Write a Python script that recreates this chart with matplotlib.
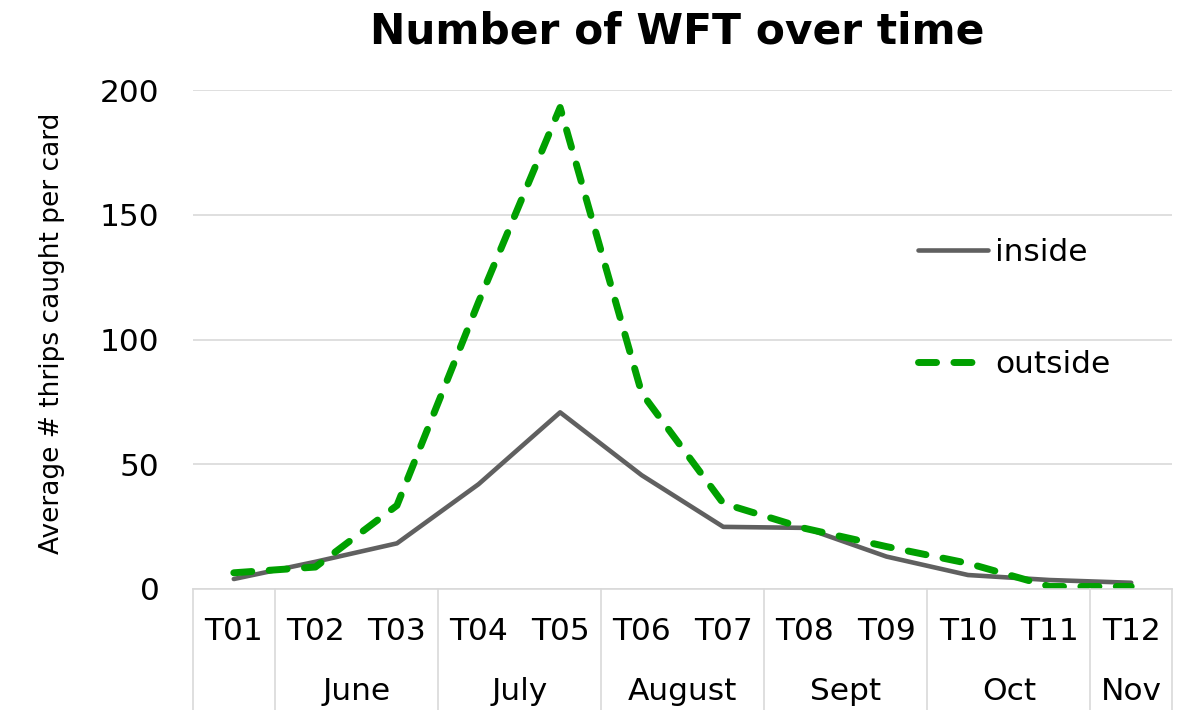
import matplotlib
matplotlib.use("Agg")
import matplotlib.pyplot as plt
from matplotlib.lines import Line2D

periods = ["T01", "T02", "T03", "T04", "T05", "T06", "T07", "T08", "T09", "T10", "T11", "T12"]
months = ["", "June", "July", "August", "Sept", "Oct", "Nov"]
month_spans = [(0, 0), (1, 2), (3, 4), (5, 6), (7, 8), (9, 10), (11, 11)]
inside = [4.0, 10.9, 18.3, 42.0, 70.8, 45.6, 24.9, 24.5, 13.0, 5.6, 3.6, 2.5]
outside = [6.5, 8.8, 33.5, 115.0, 193.0, 78.5, 34.3, 24.3, 17.0, 10.3, 1.0, 1.0]

grid_col = "#d9d9d9"
fs = 22.5

fig = plt.figure(figsize=(11.81, 7.10), dpi=100)
ax = fig.add_axes([193 / 1181, 1 - 589 / 710, (1172 - 193) / 1181, (589 - 90) / 710])

x = list(range(len(periods)))
ax.plot(x, inside, color="#606060", lw=3.3, solid_capstyle="round", label="inside")
ax.plot(x, outside, color="#00a000", lw=5.0, dashes=(2.6, 2.5),
        dash_capstyle="round", label="outside")

ax.set_xlim(-0.5, len(periods) - 0.5)
ax.set_ylim(0, 200)
ax.set_yticks([0, 50, 100, 150, 200])
ax.tick_params(axis="y", length=0, pad=24, labelsize=fs)
ax.set_xticks([])
ax.grid(axis="y", color=grid_col, lw=1.2)
ax.set_axisbelow(True)
for s in ["left", "right", "top"]:
    ax.spines[s].set_visible(False)
ax.spines["bottom"].set_color(grid_col)
ax.spines["bottom"].set_linewidth(1.2)

# two-level category axis
trans = ax.get_xaxis_transform()
bottom = -121 / 499
for i, p in enumerate(periods):
    ax.text(i, -43 / 499, p, transform=trans, ha="center", va="center", fontsize=fs)
seps = [-0.5] + [b + 0.5 for a, b in month_spans]
for sx in seps:
    ax.add_line(Line2D([sx, sx], [0, bottom], transform=trans, color=grid_col,
                       lw=1.2, clip_on=False))
for m, (a, b) in zip(months, month_spans):
    ax.text((a + b) / 2, -103 / 499, m, transform=trans, ha="center", va="center", fontsize=fs)

ax.legend(loc="upper left", bbox_to_anchor=(918 / 1181, 1 - 238 / 710),
          bbox_transform=fig.transFigure, frameon=False, fontsize=fs,
          handlelength=2.25, handletextpad=0.22, labelspacing=2.65, borderpad=0,
          borderaxespad=0)

fig.text(677 / 1181, 1 - 32 / 710, "Number of WFT over time", ha="center", va="center",
         fontsize=30.5, fontweight="bold")
fig.text(52 / 1181, 1 - 333 / 710, "Average # thrips caught per card", rotation=90,
         ha="center", va="center", fontsize=19)

fig.savefig("out.png", dpi=100)
